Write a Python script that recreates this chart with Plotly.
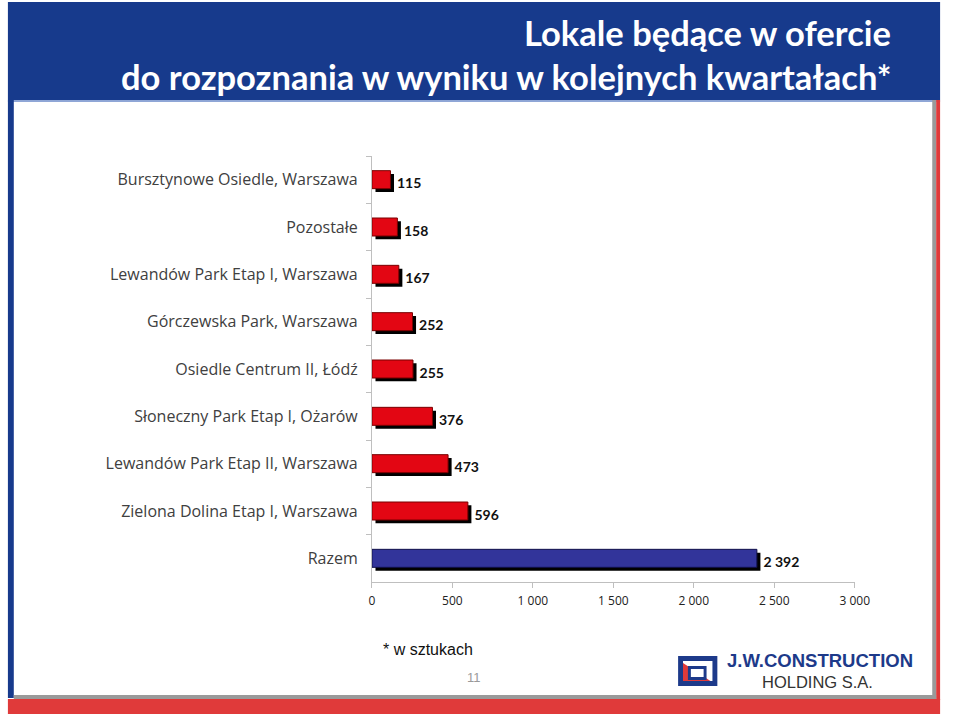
import plotly.graph_objects as go

W, H = 960, 716

categories = [
    "Bursztynowe Osiedle, Warszawa",
    "Pozostałe",
    "Lewandów Park Etap I, Warszawa",
    "Górczewska Park, Warszawa",
    "Osiedle Centrum II, Łódź",
    "Słoneczny Park Etap I, Ożarów",
    "Lewandów Park Etap II, Warszawa",
    "Zielona Dolina Etap I, Warszawa",
    "Razem",
]
values = [115, 158, 167, 252, 255, 376, 473, 596, 2392]
x_ticks = [0, 500, 1000, 1500, 2000, 2500, 3000]

title_lines = ["Lokale będące w ofercie", "do rozpoznania w wyniku w kolejnych kwartałach*"]
footnote = "* w sztukach"
page_no = "11"

def px(x):
    return x / W

def py(y):
    return 1 - y / H

bar_colors = ["#E30613"] * (len(values) - 1) + ["#32349A"]
bar_lines = ["#7A0000"] * (len(values) - 1) + ["#10104A"]

bw = 0.38
fig = go.Figure()
# shadow
fig.add_trace(go.Bar(
    y=categories, x=values, orientation="h",
    base=[22] * len(values),
    width=bw, offset=-bw / 2 + 0.07,
    marker=dict(color="#000000", line=dict(width=0)),
    text=values, texttemplate="%{x:,}", textposition="outside",
    textfont=dict(family="Lato", size=14, color="#111111", weight="bold"),
    cliponaxis=False, hoverinfo="skip", showlegend=False,
))
fig.add_trace(go.Bar(
    y=categories, x=values, orientation="h",
    width=bw, offset=-bw / 2,
    marker=dict(color=bar_colors, line=dict(color=bar_lines, width=1)),
    showlegend=False,
))

fig.update_layout(
    width=W, height=H, autosize=False,
    margin=dict(l=0, r=0, t=0, b=0),
    paper_bgcolor="white", plot_bgcolor="white",
    barmode="overlay",
    separators=", ",
    xaxis=dict(
        domain=[px(376), px(868)], range=[0, 3000],
        tickvals=x_ticks, tickformat=",",
        showgrid=False, zeroline=False,
        showline=True, linecolor="#BFBFBF", linewidth=1,
        ticks="outside", ticklen=5, tickcolor="#BFBFBF",
        ticklabelstandoff=3,
        tickfont=dict(family="Open Sans", size=12, color="#222222"),
        anchor="y",
    ),
    yaxis=dict(
        domain=[py(582), py(156)],
        autorange="reversed",
        showgrid=False, zeroline=False,
        showline=True, linecolor="#BFBFBF", linewidth=1,
        ticks="outside", ticklen=5, tickcolor="#BFBFBF",
        tickson="boundaries",
        ticklabelstandoff=10,
        tickfont=dict(family="Open Sans", size=16, color="#404040"),
        anchor="x",
    ),
)

shapes = []
def rect(x0, y0, x1, y1, color):
    shapes.append(dict(type="rect", xref="paper", yref="paper",
                       x0=px(x0), x1=px(x1), y0=py(y1), y1=py(y0),
                       fillcolor=color, line=dict(width=0), layer="below"))

# header
rect(5, 2, 955, 100, "#173A8C")
rect(5, 100, 955, 102, "#8FA6D6")
# left stripe
rect(5, 100, 11, 698, "#173A8C")
# right stripes
rect(947, 100, 951, 698, "#9A9A9A")
rect(951, 100, 955, 700, "#E03A3A")
# bottom
rect(11, 695, 951, 699, "#9A9A9A")
rect(5, 699, 955, 714, "#E03A3A")

# logo
rect(688, 656, 728, 686, "#1D3A8A")
rect(693, 661, 723, 681, "#FFFFFF")
shapes.append(dict(type="path", xref="paper", yref="paper",
                   path=f"M {px(693)},{py(663)} L {px(693)},{py(681)} L {px(721)},{py(681)} Z",
                   fillcolor="#E03A3A", line=dict(width=0), layer="below"))
rect(698, 666, 717, 680, "#1D3A8A")
rect(701, 669, 714, 677, "#FFFFFF")
fig.update_layout(shapes=shapes)

ann = []
ann.append(dict(text=title_lines[0], x=px(907), y=py(33), xref="paper", yref="paper",
                xanchor="right", yanchor="middle", showarrow=False,
                font=dict(family="Lato", size=34.5, color="white", weight="bold")))
ann.append(dict(text=title_lines[1], x=px(907), y=py(76), xref="paper", yref="paper",
                xanchor="right", yanchor="middle", showarrow=False,
                font=dict(family="Lato", size=34.5, color="white", weight="bold")))
ann.append(dict(text=footnote, x=px(385), y=py(649), xref="paper", yref="paper",
                xanchor="left", yanchor="middle", showarrow=False,
                font=dict(family="Liberation Sans", size=16, color="#111111")))
ann.append(dict(text=page_no, x=px(480), y=py(677), xref="paper", yref="paper",
                xanchor="center", yanchor="middle", showarrow=False,
                font=dict(family="Liberation Sans", size=13, color="#9A9A9A")))
ann.append(dict(text="J.W.CONSTRUCTION", x=px(833), y=py(660), xref="paper", yref="paper",
                xanchor="center", yanchor="middle", showarrow=False, borderpad=0,
                font=dict(family="Liberation Sans", size=18.5, color="#1D3A8A", weight="bold")))
ann.append(dict(text="HOLDING S.A.", x=px(830), y=py(682), xref="paper", yref="paper",
                xanchor="center", yanchor="middle", showarrow=False, borderpad=0,
                font=dict(family="Liberation Sans", size=16.5, color="#333333")))
fig.update_layout(annotations=ann)

fig.write_html("out.html")
